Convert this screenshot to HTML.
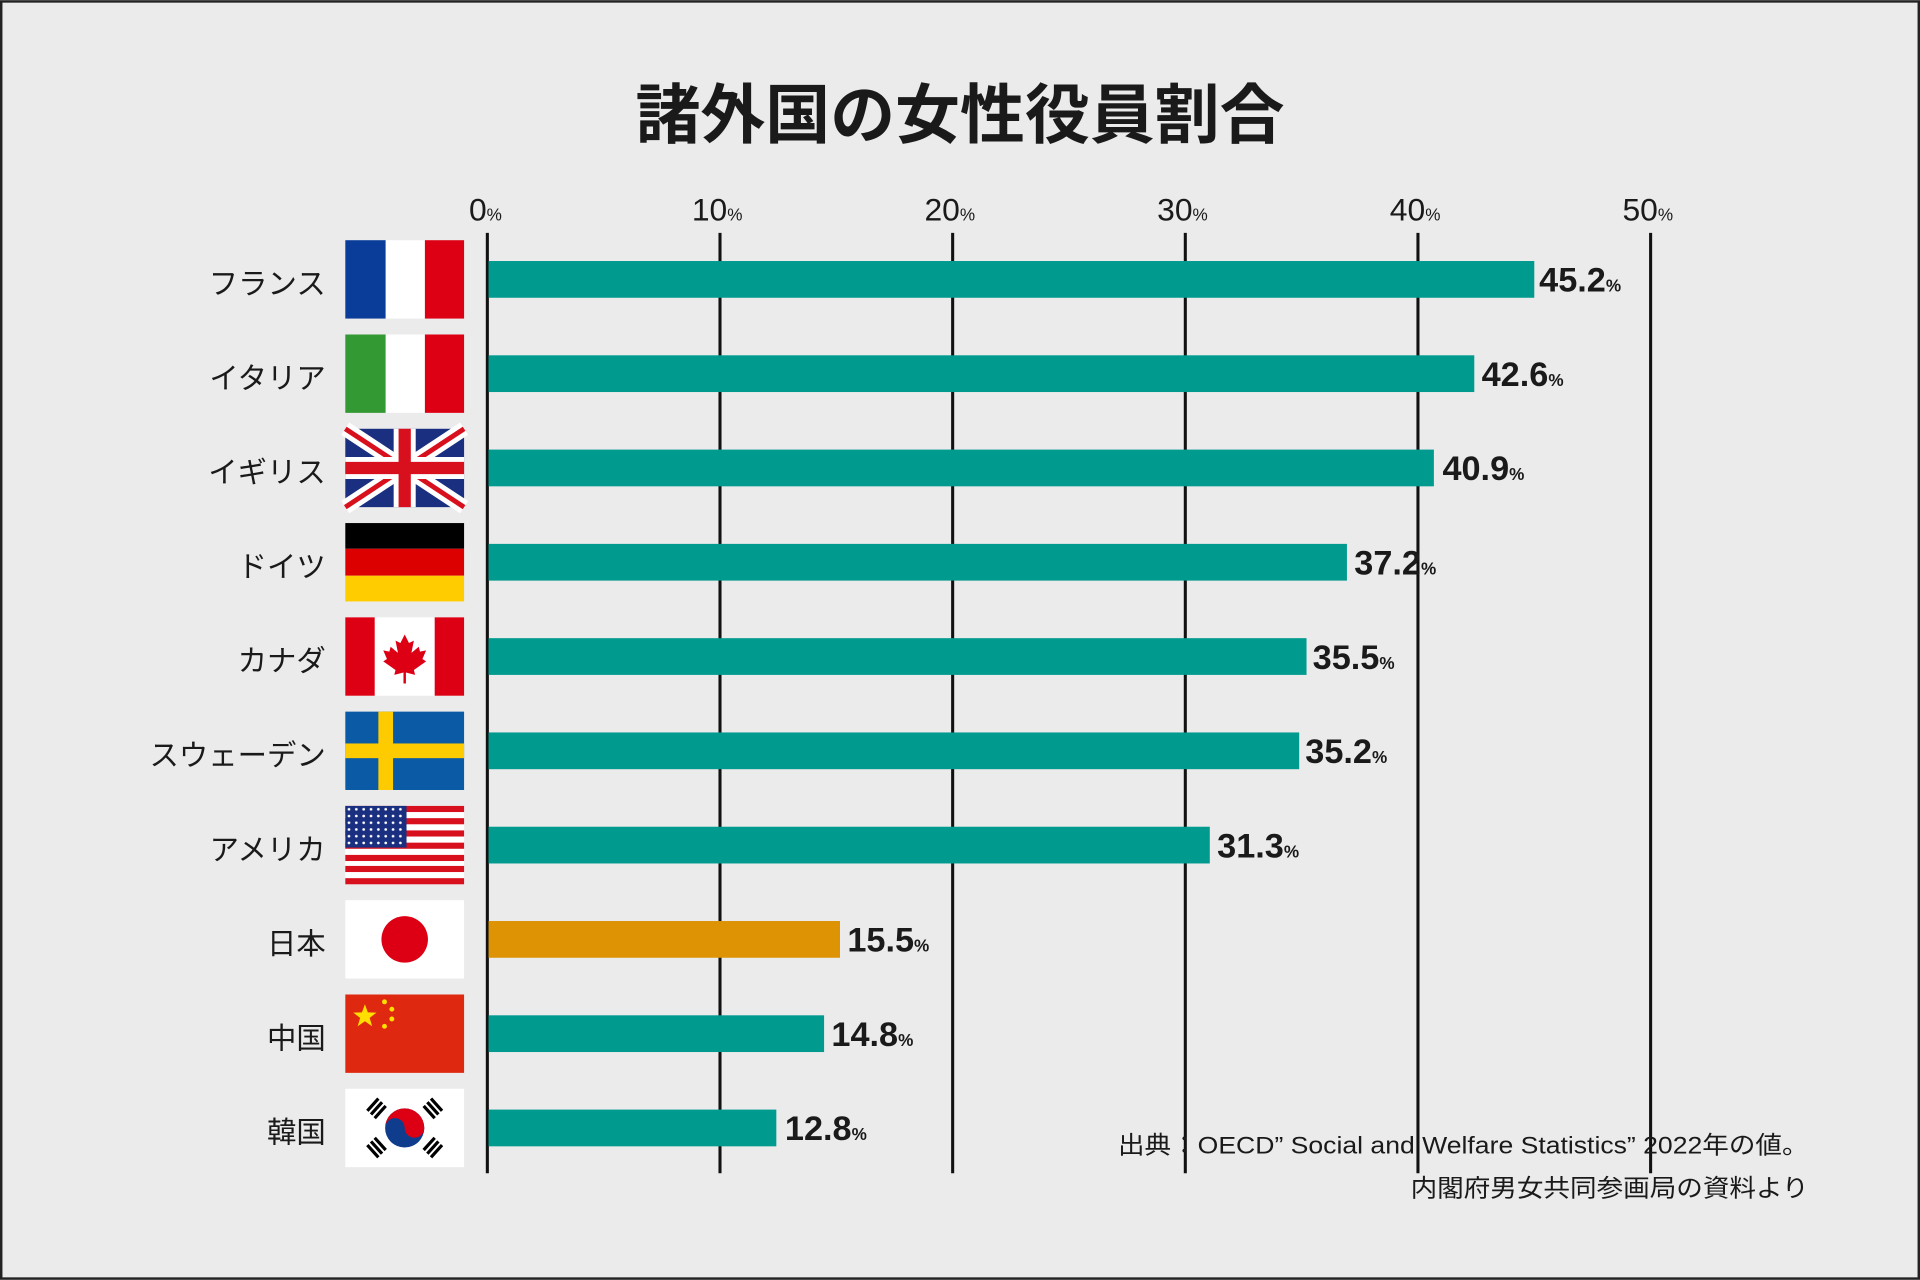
<!DOCTYPE html>
<html><head><meta charset="utf-8"><style>
html,body{margin:0;padding:0;background:#ebebeb;}
svg{display:block;}
text{font-family:"Liberation Sans","Noto Sans CJK JP",sans-serif;}
</style></head><body>
<svg width="1920" height="1280" viewBox="0 0 1568 1045" xmlns="http://www.w3.org/2000/svg">
<rect x="0" y="0" width="1568" height="1045" fill="#ebebeb"/>
<rect x="1" y="1" width="1566" height="1043" fill="none" stroke="#222" stroke-width="2"/>
<text x="784" y="112" text-anchor="middle" font-size="53" font-weight="bold" fill="#1a1a1a" textLength="530" lengthAdjust="spacingAndGlyphs">諸外国の女性役員割合</text>
<g stroke="#111" stroke-width="2.5">
<line x1="398" y1="190" x2="398" y2="958"/><line x1="588" y1="190" x2="588" y2="958"/><line x1="778" y1="190" x2="778" y2="958"/><line x1="968" y1="190" x2="968" y2="958"/><line x1="1158" y1="190" x2="1158" y2="958"/><line x1="1348" y1="190" x2="1348" y2="958"/>
</g>
<g font-size="26" fill="#1a1a1a">
<text x="383" y="180">0<tspan font-size="14">%</tspan></text>
<text x="565" y="180">10<tspan font-size="14">%</tspan></text>
<text x="755" y="180">20<tspan font-size="14">%</tspan></text>
<text x="945" y="180">30<tspan font-size="14">%</tspan></text>
<text x="1135" y="180">40<tspan font-size="14">%</tspan></text>
<text x="1325" y="180">50<tspan font-size="14">%</tspan></text>
</g>
<g font-size="24" fill="#1a1a1a" text-anchor="end">
<text x="266" y="240">フランス</text>
<text x="266" y="317">イタリア</text>
<text x="266" y="394">イギリス</text>
<text x="266" y="471">ドイツ</text>
<text x="266" y="548">カナダ</text>
<text x="266" y="625">スウェーデン</text>
<text x="266" y="702">アメリカ</text>
<text x="266" y="779">日本</text>
<text x="266" y="856">中国</text>
<text x="266" y="933">韓国</text>
</g>
<g fill="#009a8f">
<rect x="399" y="213" width="854" height="30"/>
<rect x="399" y="290" width="805" height="30"/>
<rect x="399" y="367" width="772" height="30"/>
<rect x="399" y="444" width="701" height="30"/>
<rect x="399" y="521" width="668" height="30"/>
<rect x="399" y="598" width="662" height="30"/>
<rect x="399" y="675" width="589" height="30"/>
<rect x="399" y="752" width="287" height="30" fill="#de9304"/>
<rect x="399" y="829" width="274" height="30"/>
<rect x="399" y="906" width="235" height="30"/>
</g>
<g font-size="28" font-weight="bold" fill="#1a1a1a">
<text x="1257" y="238">45.2<tspan font-size="14">%</tspan></text>
<text x="1210" y="315">42.6<tspan font-size="14">%</tspan></text>
<text x="1178" y="392">40.9<tspan font-size="14">%</tspan></text>
<text x="1106" y="469">37.2<tspan font-size="14">%</tspan></text>
<text x="1072" y="546">35.5<tspan font-size="14">%</tspan></text>
<text x="1066" y="623">35.2<tspan font-size="14">%</tspan></text>
<text x="994" y="700">31.3<tspan font-size="14">%</tspan></text>
<text x="692" y="777">15.5<tspan font-size="14">%</tspan></text>
<text x="679" y="854">14.8<tspan font-size="14">%</tspan></text>
<text x="641" y="931">12.8<tspan font-size="14">%</tspan></text>
</g>
<g transform="translate(282,196)"><rect width="33" height="64" fill="#0a3d99"/><rect x="33" width="32" height="64" fill="#fff"/><rect x="65" width="32" height="64" fill="#dd0015"/></g>
<g transform="translate(282,273)"><rect width="33" height="64" fill="#339933"/><rect x="33" width="32" height="64" fill="#fff"/><rect x="65" width="32" height="64" fill="#dd0015"/></g>
<g transform="translate(282,350)"><rect width="97" height="64" fill="#1a2f80"/>
<path d="M0 0L97 64M97 0L0 64" stroke="#fff" stroke-width="12"/>
<path d="M0 0L97 64M97 0L0 64" stroke="#d8101e" stroke-width="4"/>
<path d="M48.5 0V64M0 32H97" stroke="#fff" stroke-width="18"/>
<path d="M48.5 0V64M0 32H97" stroke="#d8101e" stroke-width="10"/></g>
<g transform="translate(282,427)"><rect width="97" height="21" fill="#000"/><rect y="21" width="97" height="22" fill="#dd0000"/><rect y="43" width="97" height="21" fill="#ffcc00"/></g>
<g transform="translate(282,504)"><rect width="97" height="64" fill="#fff"/><rect width="24" height="64" fill="#dd0015"/><rect x="73" width="24" height="64" fill="#dd0015"/>
<path d="M48.5 14L52 21L56 19L54 29L60 24L61 28L66 27L63 34L66 36L56 43L57 47L49.5 45V54H47.5V45L40 47L41 43L31 36L34 34L31 27L36 28L37 24L43 29L41 19L45 21Z" fill="#dd0015"/></g>
<g transform="translate(282,581)"><rect width="97" height="64" fill="#0b5aa5"/><rect x="27" width="12" height="64" fill="#fecb00"/><rect y="26" width="97" height="12" fill="#fecb00"/></g>
<g transform="translate(282,658)"><rect width="97" height="64" fill="#fff"/>
<g fill="#d8101e"><rect y="0" width="97" height="5"/><rect y="10" width="97" height="5"/><rect y="20" width="97" height="5"/><rect y="30" width="97" height="5"/><rect y="40" width="97" height="5"/><rect y="49" width="97" height="5"/><rect y="59" width="97" height="5"/></g>
<rect width="50" height="34" fill="#1a2f80"/>
<pattern id="st" width="6" height="5.5" patternUnits="userSpaceOnUse"><circle cx="3" cy="2.75" r="1.1" fill="#fff"/></pattern><rect x="1" y="1" width="48" height="32" fill="url(#st)"/></g>
<g transform="translate(282,735)"><rect width="97" height="64" fill="#fff"/><circle cx="48.5" cy="32" r="19" fill="#dd0015"/></g>
<g transform="translate(282,812)"><rect width="97" height="64" fill="#de2910"/>
<polygon points="16,8 18.4,14.6 25.5,14.8 19.9,19.1 21.9,25.9 16,21.9 10.1,25.9 12.1,19.1 6.5,14.8 13.6,14.6" fill="#ffde00"/>
<circle cx="32" cy="6" r="2" fill="#ffde00"/><circle cx="38" cy="12" r="2" fill="#ffde00"/><circle cx="38" cy="20" r="2" fill="#ffde00"/><circle cx="32" cy="26" r="2" fill="#ffde00"/></g>
<g transform="translate(282,889)"><rect width="97" height="64" fill="#fff"/>
<circle cx="48.5" cy="32" r="16" fill="#0f3c8c"/><path d="M32.5 32A16 16 0 0 1 64.5 32A8 8 0 0 1 48.5 32A8 8 0 0 0 32.5 32Z" fill="#dd0015"/>
<g stroke="#000" stroke-width="2.6"><path d="M18 18L27 8M21 21L30 11M24 24L33 14"/><path d="M64 14L73 24M67 11L76 21M70 8L79 18"/><path d="M18 46L27 56M21 43L30 53M24 40L33 50"/><path d="M64 50L73 40M67 53L76 43M70 56L79 46"/></g></g>
<g font-size="20" fill="#1a1a1a" text-anchor="end">
<text x="1477" y="942" textLength="564" lengthAdjust="spacingAndGlyphs">出典：OECD” Social and Welfare Statistics” 2022年の値。</text>
<text x="1477" y="977" textLength="325" lengthAdjust="spacingAndGlyphs">内閣府男女共同参画局の資料より</text>
</g>
</svg>
</body></html>
